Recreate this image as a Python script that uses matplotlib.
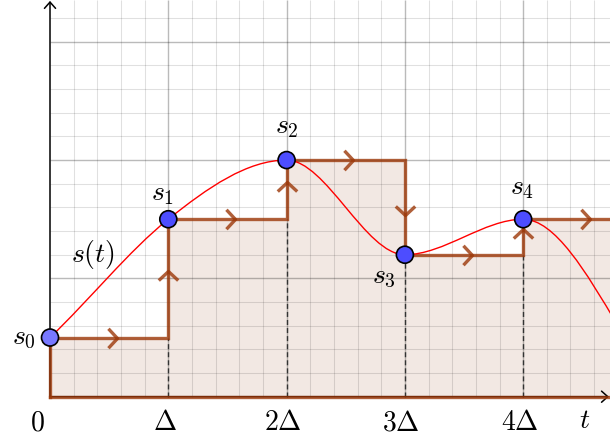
import numpy as np
import matplotlib
matplotlib.use("Agg")
import matplotlib.pyplot as plt
from matplotlib.path import Path
from matplotlib.patches import PathPatch

plt.rcParams['mathtext.fontset'] = 'cm'
plt.rcParams['font.family'] = ['DejaVu Sans']

# ---------------- data ----------------
t_samples = [0, 1, 2, 3, 4]                # sample instants (in units of Delta)
s_samples = [0.5, 1.5, 2.0, 1.2, 1.5]      # sampled values s_k
hold_end = 5.0                              # last hold continues past the frame

curve_t = [0, 1, 2, 3, 4, 4.8]              # knots of the continuous signal s(t)
curve_s = [0.5, 1.5, 2.0, 1.2, 1.5, 0.6]
curve_slope = [0.95, 0.8, 0.0, 0.0, 0.0, -1.7]

tick_pos = [1, 2, 3, 4]
tick_labels = [r'$\Delta$', r'$2\Delta$', r'$3\Delta$', r'$4\Delta$']
point_labels = ['$s_0$', '$s_1$', '$s_2$', '$s_3$', '$s_4$']
point_label_offsets = [(-26, 1), (-6, 26), (0, 34), (-21, -21), (-1, 32)]  # pixels

# ---------------- style ----------------
BROWN = '#9c3809'
BROWN_ALPHA = 0.8
FILL = '#a0522d'
BLUE = '#4d4dff'
BLUE_LIGHT = '#7878ff'
FS = 20

X0, X1 = -0.4227, 4.734
Y0, Y1 = -0.4337, 3.353

fig = plt.figure(figsize=(6.10, 4.48), dpi=100)
ax = fig.add_axes([0, 0, 1, 1])
ax.set_xlim(X0, X1)
ax.set_ylim(Y0, Y1)
ax.axis('off')

# step (sample-and-hold) signal
step_x = [0]
step_y = [0]
for i, (tk, sk) in enumerate(zip(t_samples, s_samples)):
    nxt = t_samples[i + 1] if i + 1 < len(t_samples) else hold_end
    step_x += [tk, nxt]
    step_y += [sk, sk]

# fill under step
fill_x = list(t_samples) + [hold_end]
fill_y = list(s_samples) + [s_samples[-1]]
ax.fill_between(fill_x, 0, fill_y, step='post', color=FILL, alpha=0.13, lw=0, zorder=0)

# grid in first quadrant
minor = np.arange(0, 6, 0.2)
vx = [v for v in minor if v > 0.01 and v < X1 and abs(v - round(v)) > 0.01]
hy = [v for v in minor if v > 0.01 and v < Y1 and abs(v - round(v)) > 0.01]
ax.vlines(vx, 0, Y1, color='black', alpha=0.12, lw=0.75, zorder=1)
ax.hlines(hy, 0, X1, color='black', alpha=0.12, lw=0.75, zorder=1)
ax.vlines([1, 2, 3, 4], 0, Y1, color='black', alpha=0.27, lw=1.0, zorder=1)
ax.hlines([1, 2, 3], 0, X1, color='black', alpha=0.27, lw=1.0, zorder=1)

# dashed drops
for i in range(1, len(t_samples)):
    top = min(s_samples[i - 1], s_samples[i])
    ax.plot([t_samples[i], t_samples[i]], [0, top], color='#333333', lw=1.0,
            dashes=(3.6, 2.2), zorder=2)

# axes
ax.annotate('', xy=(0, 3.345), xytext=(0, 0), zorder=2,
            arrowprops=dict(arrowstyle='->,head_length=0.45,head_width=0.4', lw=1.1,
                            color='black', shrinkA=0, shrinkB=0, mutation_scale=10))
ax.annotate('', xy=(4.725, 0), xytext=(0, 0), zorder=2,
            arrowprops=dict(arrowstyle='->,head_length=0.45,head_width=0.4', lw=1.1,
                            color='black', shrinkA=0, shrinkB=0, mutation_scale=10))

# brown step line and base
ax.plot(step_x, step_y, color=BROWN, alpha=BROWN_ALPHA, lw=2.4, solid_joinstyle='miter', zorder=3)
ax.plot([0, hold_end], [0, 0], color=BROWN, alpha=BROWN_ALPHA, lw=2.4, zorder=3)

# chevrons on each step segment
chev = {
    'r': [(-0.93, 1), (0, 0), (-0.93, -1)],
    'l': [(0.93, 1), (0, 0), (0.93, -1)],
    'u': [(1, -0.93), (0, 0), (-1, -0.93)],
    'd': [(1, 0.93), (0, 0), (-1, 0.93)],
}
OFF = 0.065
for (xa, ya), (xb, yb) in zip(zip(step_x[1:-1], step_y[1:-1]), zip(step_x[2:], step_y[2:])):
    if abs(xa - xb) < 1e-9 and abs(ya - yb) < 1e-9:
        continue
    mx, my = (xa + xb) / 2, (ya + yb) / 2
    if abs(ya - yb) < 1e-9:
        d = 'r' if xb > xa else 'l'
        mx += OFF if xb > xa else -OFF
    else:
        d = 'u' if yb > ya else 'd'
        my += OFF if yb > ya else -OFF
    ax.plot([mx], [my], marker=chev[d], ms=14, mfc='none', mec=BROWN, alpha=BROWN_ALPHA,
            mew=2.4, ls='none', zorder=3)

# continuous signal s(t) as cubic Hermite/Bezier path
verts = [(curve_t[0], curve_s[0])]
codes = [Path.MOVETO]
for i in range(len(curve_t) - 1):
    h = curve_t[i + 1] - curve_t[i]
    verts += [(curve_t[i] + h / 3, curve_s[i] + curve_slope[i] * h / 3),
              (curve_t[i + 1] - h / 3, curve_s[i + 1] - curve_slope[i + 1] * h / 3),
              (curve_t[i + 1], curve_s[i + 1])]
    codes += [Path.CURVE4] * 3
ax.add_patch(PathPatch(Path(verts, codes), fc='none', ec='red', lw=1.0, zorder=4))

# sample points
colors = [BLUE_LIGHT] + [BLUE] * (len(t_samples) - 1)
ax.scatter(t_samples, s_samples, s=150, c=colors, edgecolors='black', linewidths=1.2, zorder=6)

# labels
for (tk, sk), lab, off in zip(zip(t_samples, s_samples), point_labels, point_label_offsets):
    ax.annotate(lab, xy=(tk, sk), xytext=off, textcoords='offset pixels',
                ha='center', va='center', fontsize=FS, zorder=7)
ax.text(0.363, 1.206, '$s(t)$', ha='center', va='center', fontsize=FS)

ax.text(-0.11, -0.214, '$0$', ha='center', va='center', fontsize=FS)
for p, lab in zip(tick_pos, tick_labels):
    ax.text(p - 0.03, -0.214, lab, ha='center', va='center', fontsize=FS)
ax.text(4.52, -0.197, '$t$', ha='center', va='center', fontsize=FS)

fig.savefig('out.png', dpi=100)
